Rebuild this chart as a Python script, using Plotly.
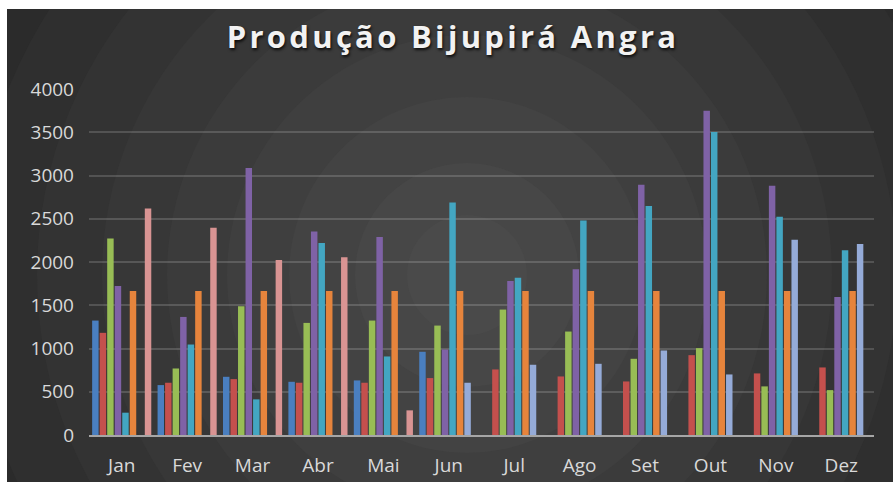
import plotly.graph_objects as go

# months and series
months = ["Jan", "Fev", "Mar", "Abr", "Mai", "Jun", "Jul", "Ago", "Set", "Out", "Nov", "Dez"]

serie_1 = [1323, 577, 673, 615, 631, 962, None, None, None, None, None, None]
serie_2 = [1181, 604, 646, 604, 604, 658, 758, 677, 619, 923, 712, 781]
serie_3 = [2273, 769, 1488, 1296, 1323, 1265, 1450, 1196, 881, 1004, 562, 519]
serie_4 = [1723, 1365, 3088, 2354, 2288, 988, 1781, 1915, 2892, 3750, 2881, 1596]
serie_5 = [258, 1046, 412, 2219, 908, 2688, 1819, 2481, 2646, 3504, 2523, 2135]
serie_6 = [1665, 1665, 1665, 1665, 1665, 1665, 1665, 1665, 1665, 1665, 1665, 1665]
serie_7 = [None, None, None, None, None, 604, 812, 823, 977, 700, 2258, 2208]
serie_8 = [2619, 2396, 2023, 2054, 285, None, None, None, None, None, None, None]

series = [serie_1, serie_2, serie_3, serie_4, serie_5, serie_6, serie_7, serie_8]
colors = ["#4a7fc0", "#c4504d", "#98bd55", "#7f62a6", "#43a6c2", "#e6843c", "#95abd8", "#d99493"]

W, H = 894, 482
ML, MR, MT, MB = 89, 20, 89, 47
PW, PH = W - ML - MR, H - MT - MB


def px_x(v):
    return (v - ML) / PW


def px_y(v):
    return (H - MB - v) / PH


fig = go.Figure()
for i, (vals, col) in enumerate(zip(series, colors)):
    fig.add_trace(go.Bar(
        x=months, y=vals, name="Série %d" % (i + 1),
        marker=dict(color=col, line=dict(width=0)),
    ))

shapes = []
# dark panel
shapes.append(dict(type="rect", xref="paper", yref="paper", layer="below",
                   x0=px_x(7), x1=px_x(893), y0=px_y(482), y1=px_y(9),
                   fillcolor="#282828", line=dict(width=0)))
# radial glow, concentric rings from outside in
cx, cy = 467, 275
rings = [560, 495, 430, 365, 300, 240, 178, 112, 60]
greys = ["#2b2b2b", "#2f2f2f", "#333333", "#373737", "#3b3b3b", "#3f3f3f", "#434343", "#474747", "#4a4a4a"]
for r, g in zip(rings, greys):
    shapes.append(dict(type="circle", xref="paper", yref="paper", layer="below",
                       xsizemode="pixel", ysizemode="pixel",
                       xanchor=px_x(cx), yanchor=px_y(cy),
                       x0=-r, x1=r, y0=-r, y1=r,
                       fillcolor=g, line=dict(width=0)))
# white edges around the panel
for x0, x1, y0, y1 in [(0, W, 0, 9), (0, 7, 0, H), (893, W, 0, H)]:
    shapes.append(dict(type="rect", xref="paper", yref="paper", layer="below",
                       x0=px_x(x0), x1=px_x(x1), y0=px_y(y1), y1=px_y(y0),
                       fillcolor="white", line=dict(width=0)))

fig.update_layout(
    width=W, height=H,
    margin=dict(l=ML, r=MR, t=MT, b=MB),
    paper_bgcolor="white",
    plot_bgcolor="rgba(0,0,0,0)",
    barmode="group",
    bargap=0.08,
    bargroupgap=0.14,
    showlegend=False,
    shapes=shapes,
    title=dict(
        text="Produção Bijupirá Angra",
        x=(453 - ML) / PW, xref="paper", xanchor="center",
        y=1 - 37 / H, yanchor="middle",
        font=dict(family="Open Sans", size=31, color="#f2f2f2", weight="bold",
                  shadow="1px 2px 3px rgba(0,0,0,0.8)"),
    ),
    font=dict(family="Open Sans", color="#d9d9d9", size=19),
    xaxis=dict(
        showgrid=False, automargin=False,
        showline=True, linecolor="#a6a6a6", linewidth=2,
        ticks="", ticklabelstandoff=12,
        tickfont=dict(family="Open Sans", size=19, color="#d9d9d9"),
    ),
    yaxis=dict(
        range=[0, 4000], dtick=500, automargin=False,
        showgrid=True, gridcolor="rgba(255,255,255,0.16)", gridwidth=2,
        zeroline=False, showline=False,
        ticks="", ticklabelstandoff=14,
        tickfont=dict(family="Open Sans", size=19, color="#d9d9d9"),
    ),
)

# no page margin, and the wide letter spacing of the original title
js = ("document.body.style.margin='0';"
      "var t=document.querySelector('.gtitle');"
      "if(t){t.style.letterSpacing='3.3px';}")
fig.write_html("out.html", post_script=js, config={"displayModeBar": False})
